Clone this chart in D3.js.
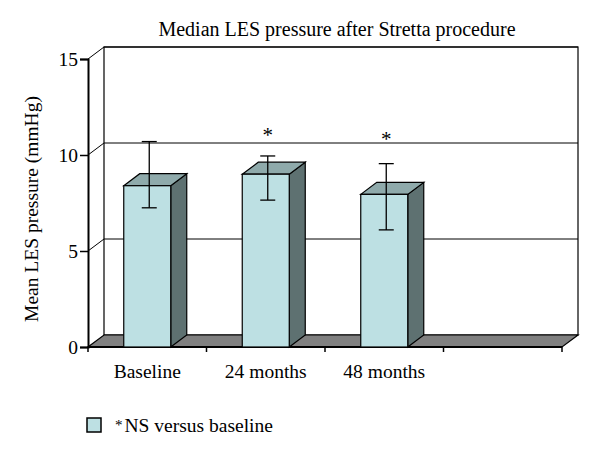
<!DOCTYPE html>
<html><head><meta charset="utf-8">
<script src="https://cdn.jsdelivr.net/npm/d3@7"></script>
<style>
html,body{margin:0;padding:0;background:#fff;}
svg text{font-family:"Liberation Serif","DejaVu Serif",serif;fill:#000;}
</style></head>
<body>
<svg id="chart" width="600" height="457"></svg>
<script>
const categories = ["Baseline", "24 months", "48 months", ""];
const values = [8.4, 9.0, 7.95];
const errLow = [7.25, 7.65, 6.1];
const errHigh = [10.7, 9.95, 9.55];
const markAt = [null, 11.2, 11.0];
const yTicks = [0, 5, 10, 15];
const title = "Median LES pressure after Stretta procedure";
const yTitle = "Mean LES pressure (mmHg)";
const legendText = "NS versus baseline";

const svg = d3.select("#chart");
const x = d3.scaleBand().domain(categories.map((c,i)=>i)).range([88, 562]).padding(0);
const y = d3.scaleLinear().domain([0, 15]).range([347, 59]);
const dx = 16, dy = -12;
const barW = 47;
const colFront = "#bde0e3", colTop = "#8faaab", colSide = "#5e7171", colFloor = "#808080";
const x0 = x.range()[0], x1 = x.range()[1];

// back wall
svg.append("rect").attr("x", x0+dx).attr("y", y(15)+dy).attr("width", x1-x0).attr("height", y(0)-y(15))
  .attr("fill", "#fff").attr("stroke", "#000").attr("stroke-width", 1.2);
yTicks.filter(t=>t>0).forEach(t=>{
  svg.append("line").attr("x1", x0+dx).attr("x2", x1+dx).attr("y1", y(t)+dy).attr("y2", y(t)+dy)
    .attr("stroke", "#000").attr("stroke-width", 1);
  svg.append("line").attr("x1", x0).attr("x2", x0+dx).attr("y1", y(t)).attr("y2", y(t)+dy)
    .attr("stroke", "#000").attr("stroke-width", 1);
});
// floor
svg.append("path").attr("d", `M${x0},${y(0)}L${x1},${y(0)}L${x1+dx},${y(0)+dy}L${x0+dx},${y(0)+dy}Z`)
  .attr("fill", colFloor).attr("stroke", "#000").attr("stroke-width", 1.2);

// y axis
const yAxis = d3.axisLeft(y).tickValues(yTicks).tickSize(8).tickFormat(d3.format("d"));
const gy = svg.append("g").attr("transform", `translate(${x0},0)`).call(yAxis);
gy.select(".domain").attr("stroke-width", 2);
gy.selectAll(".tick line").attr("stroke-width", 1.5);
gy.selectAll(".tick text").attr("font-size", 19.5).attr("x", -10).attr("dy", "0.35em")
  .style("font-family", '"Liberation Serif",serif');

// x axis
const gx = svg.append("g").attr("transform", `translate(0,${y(0)})`);
gx.append("line").attr("x1", x0).attr("x2", x1).attr("y1", 0).attr("y2", 0).attr("stroke", "#000").attr("stroke-width", 2.2);
const bounds = categories.map((c,i)=>x(i)).concat([x1]);
bounds.forEach(b=>{
  gx.append("line").attr("x1", b).attr("x2", b).attr("y1", 0).attr("y2", 5).attr("stroke", "#000").attr("stroke-width", 1.5);
});
categories.forEach((c,i)=>{
  gx.append("text").attr("x", x(i)+x.bandwidth()/2).attr("y", 31).attr("text-anchor", "middle")
    .attr("font-size", 19.5).text(c);
});

// bars
values.forEach((v,i)=>{
  const cx = x(i)+x.bandwidth()/2;
  const bx = cx - barW/2, top = y(v), bot = y(0);
  const g = svg.append("g");
  g.append("path").attr("d", `M${bx+barW},${top}L${bx+barW+dx},${top+dy}L${bx+barW+dx},${bot+dy}L${bx+barW},${bot}Z`)
    .attr("fill", colSide).attr("stroke", "#000").attr("stroke-width", 1.2);
  g.append("path").attr("d", `M${bx},${top}L${bx+dx},${top+dy}L${bx+barW+dx},${top+dy}L${bx+barW},${top}Z`)
    .attr("fill", colTop).attr("stroke", "#000").attr("stroke-width", 1.2);
  g.append("rect").attr("x", bx).attr("y", top).attr("width", barW).attr("height", bot-top)
    .attr("fill", colFront).attr("stroke", "#000").attr("stroke-width", 1.2);
  const ex = cx + 2;
  g.append("line").attr("x1", ex).attr("x2", ex).attr("y1", y(errHigh[i])).attr("y2", y(errLow[i])).attr("stroke", "#000").attr("stroke-width", 1.3);
  [errHigh[i], errLow[i]].forEach(e=>{
    g.append("line").attr("x1", ex-7.5).attr("x2", ex+7.5).attr("y1", y(e)).attr("y2", y(e)).attr("stroke", "#000").attr("stroke-width", 1.3);
  });
  if (markAt[i] != null) {
    g.append("text").attr("x", ex).attr("y", y(markAt[i]) + 10).attr("text-anchor", "middle")
      .attr("font-size", 21).attr("fill", "#222").text("*");
  }
});

// title
svg.append("text").attr("x", 337).attr("y", 36).attr("text-anchor", "middle").attr("font-size", 20).text(title);
// y title
svg.append("text").attr("transform", `translate(38,209) rotate(-90)`).attr("text-anchor", "middle")
  .attr("font-size", 19.5).text(yTitle);

// legend
svg.append("rect").attr("x", 87).attr("y", 418).attr("width", 14).attr("height", 14)
  .attr("fill", colFront).attr("stroke", "#000").attr("stroke-width", 1.5);
const lt = svg.append("text").attr("x", 115).attr("y", 432).attr("font-size", 19.5);
lt.append("tspan").attr("font-size", 15).attr("dy", -2).text("*");
lt.append("tspan").attr("dy", 2).attr("dx", 2).text(legendText);
</script>
</body></html>
